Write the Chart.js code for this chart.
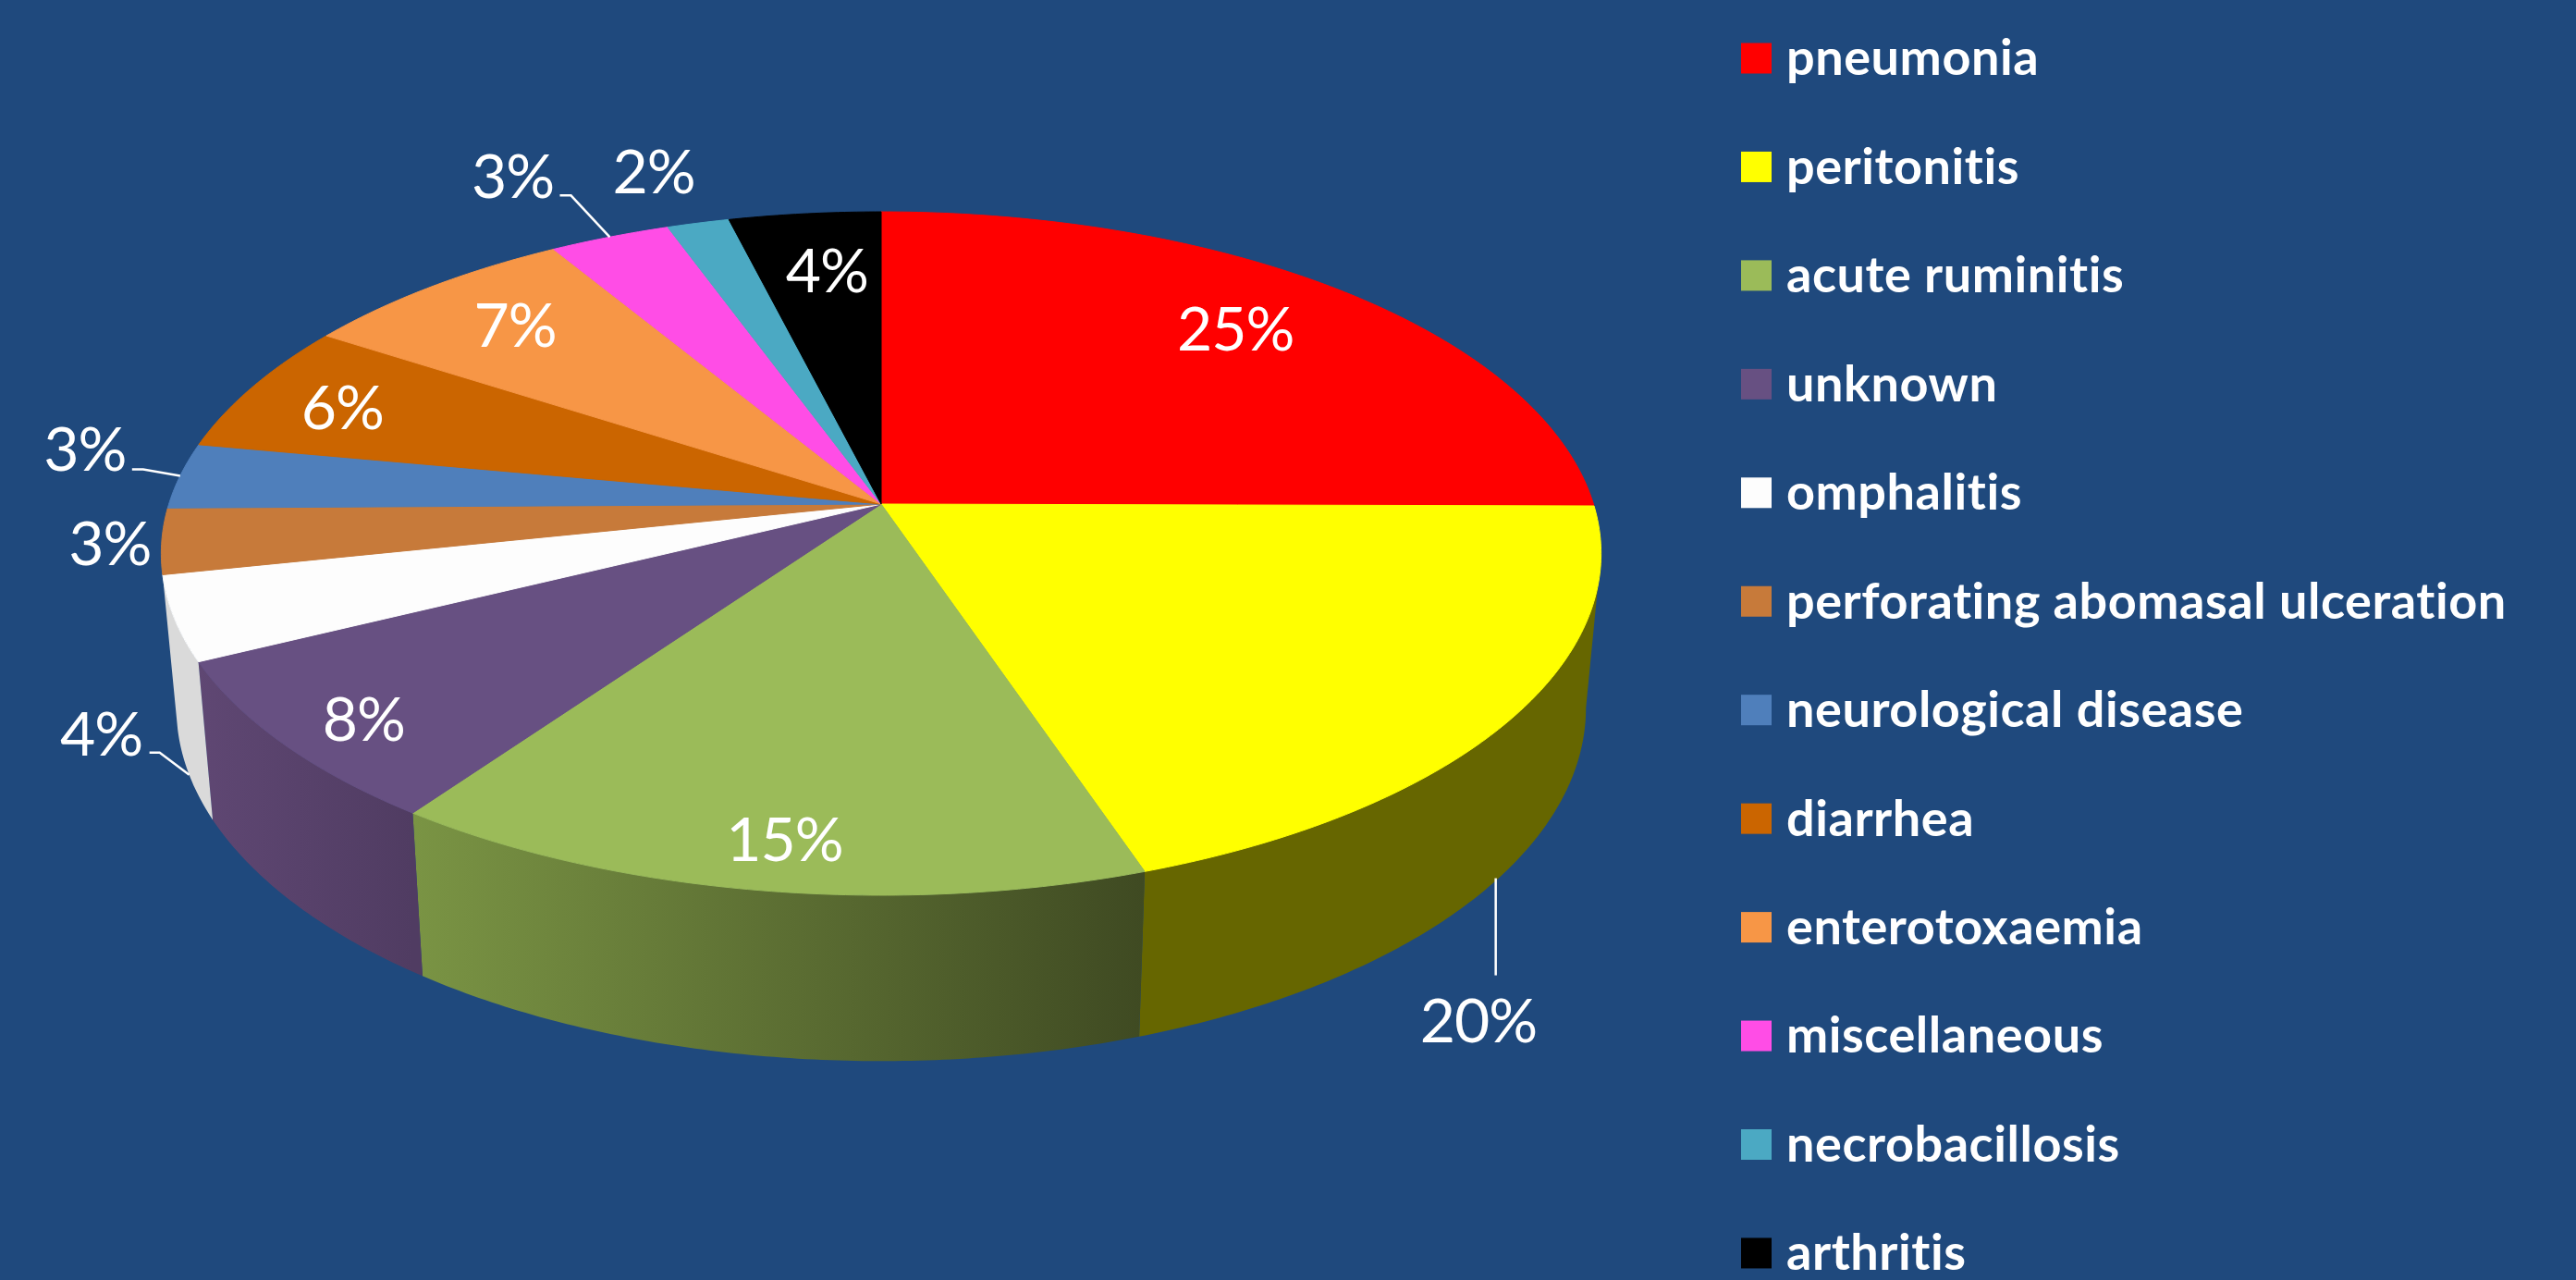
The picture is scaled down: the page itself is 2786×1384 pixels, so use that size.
<!DOCTYPE html>
<html>
<head>
<meta charset="utf-8">
<title>Causes of death</title>
<script src="https://cdn.jsdelivr.net/npm/chart.js@4"></script>
<style>
  html, body { margin: 0; padding: 0; background: #1F497D; }
  canvas { display: block; }
</style>
</head>
<body>
<canvas id="canvas" width="2786" height="1384"></canvas>
<script>
// chart values, percentage labels are rounded from these
const categories = ['pneumonia', 'peritonitis', 'acute ruminitis', 'unknown', 'omphalitis',
  'perforating abomasal ulceration', 'neurological disease', 'diarrhea', 'enterotoxaemia',
  'miscellaneous', 'necrobacillosis', 'arthritis'];
const values = [25, 19.8, 15.1, 7.9, 4, 3.1, 3.1, 6.2, 7.2, 3.1, 1.6, 3.9];
const colors = ['#FF0000', '#FFFF00', '#9BBB59', '#675082', '#FDFDFD', '#C77A3A',
  '#4F7FBB', '#CB6500', '#F79646', '#FF4DE6', '#4BA9C3', '#000000'];

// side wall shading [left, right], only the front slices show a wall
const wallColors = [['#666600', '#666600'], ['#666600', '#666600'], ['#7A9444', '#3F4A22'],
  ['#5F4773', '#503C62'], ['#DADADA', '#DADADA']];

// label offset from the slice's rim point, in px
const labelOffsets = [[-113, 44], [-36, 329], [27, -53], [88, -24], [-79, 127], [-56, 5],
  [-103, -27], [97, 24], [90, 44], [-105, -64], [-48, -53], [24, 64]];
// leader lines, offsets from the rim point
const leaders = { 1: [[-3, 0], [-3, 105]], 4: [[0, 0], [-32, -24], [-43, -24]],
  6: [[0, 0], [-40, -7], [-52, -7]], 9: [[0, 0], [-42, -45], [-54, -45]] };

// projection of the pie disc
const cx = 953, cy = 547, apexY = 545, radiusX = 771, radiusY = 362.3, tilt = 0.1394;
const edgeAngle = Math.asin(tilt); // where the disc outline turns, the wall stops there

function topPoint(angle) {
  const a = angle + Math.PI / 2;
  const u = Math.sin(a), v = Math.cos(a), w = 1 + tilt * v;
  return { x: cx + radiusX * u / w, y: cy - radiusY * v / w };
}
function bottomPoint(angle) {
  const p = topPoint(angle);
  return { x: cx + 0.979 * (p.x - cx), y: p.y + 165 + 0.034 * (p.y - cy) };
}
function arcPoints(fn, start, end) {
  const steps = Math.max(2, Math.ceil((end - start) / 0.01));
  const pts = [];
  for (let i = 0; i <= steps; i++) pts.push(fn(start + (end - start) * i / steps));
  return pts;
}
function trace(ctx, pts) {
  ctx.beginPath();
  pts.forEach((p, i) => i ? ctx.lineTo(p.x, p.y) : ctx.moveTo(p.x, p.y));
  ctx.closePath();
}

const pie3d = {
  id: 'pie3d',
  beforeDatasetsDraw(chart) {
    const ctx = chart.ctx;
    const arcs = chart.getDatasetMeta(0).data;
    ctx.save();

    // walls
    wallColors.forEach((c, i) => {
      const start = Math.max(arcs[i].startAngle, edgeAngle);
      const end = Math.min(arcs[i].endAngle, Math.PI - edgeAngle);
      if (end <= start) return;
      const top = arcPoints(topPoint, start, end);
      const bottom = arcPoints(bottomPoint, start, end);
      const xs = top.map(p => p.x);
      const g = ctx.createLinearGradient(Math.min(...xs), 0, Math.max(...xs), 0);
      g.addColorStop(0, c[0]);
      g.addColorStop(1, c[1]);
      trace(ctx, top.concat(bottom.reverse()));
      ctx.fillStyle = g;
      ctx.fill();
    });

    // top faces
    arcs.forEach((arc, i) => {
      const pts = [{ x: cx, y: apexY }].concat(arcPoints(topPoint, arc.startAngle, arc.endAngle));
      trace(ctx, pts);
      ctx.fillStyle = colors[i];
      ctx.fill();
      ctx.strokeStyle = colors[i];
      ctx.lineWidth = 1;
      ctx.stroke();
    });

    // leader lines
    ctx.strokeStyle = '#FFFFFF';
    ctx.lineWidth = 2.5;
    Object.keys(leaders).forEach(k => {
      const arc = arcs[k];
      const mid = (arc.startAngle + arc.endAngle) / 2;
      const rim = k < wallColors.length ? bottomPoint(mid) : topPoint(mid);
      ctx.beginPath();
      leaders[k].forEach((o, i) => {
        if (i) ctx.lineTo(rim.x + o[0], rim.y + o[1]);
        else ctx.moveTo(rim.x + o[0], rim.y + o[1]);
      });
      ctx.stroke();
    });

    // percentage labels
    ctx.fillStyle = '#FFFFFF';
    ctx.font = '66px Lato';
    ctx.letterSpacing = '-1px';
    ctx.textAlign = 'center';
    ctx.textBaseline = 'middle';
    arcs.forEach((arc, i) => {
      const rim = topPoint((arc.startAngle + arc.endAngle) / 2);
      const pct = Math.round((arc.endAngle - arc.startAngle) / (2 * Math.PI) * 100);
      ctx.fillText(pct + '%', rim.x + labelOffsets[i][0], rim.y + labelOffsets[i][1]);
    });

    // legend: rows are too far apart for the built in one
    ctx.font = 'bold 54px Lato';
    ctx.letterSpacing = '0.55px'; // also stops the ti ligature
    ctx.textAlign = 'left';
    categories.forEach((name, i) => {
      const y = 63 + i * 117.45;
      ctx.fillStyle = colors[i];
      ctx.fillRect(1883, y - 16.5, 33, 33);
      ctx.fillStyle = '#FFFFFF';
      ctx.fillText(name, 1932, y + 1);
    });

    ctx.restore();
    return false;
  }
};

new Chart(document.getElementById('canvas'), {
  type: 'pie',
  data: {
    labels: categories,
    datasets: [{ data: values, backgroundColor: colors }]
  },
  options: {
    responsive: false,
    animation: false,
    devicePixelRatio: 1,
    plugins: { legend: { display: false }, tooltip: { enabled: false } }
  },
  plugins: [pie3d]
});
</script>
</body>
</html>
